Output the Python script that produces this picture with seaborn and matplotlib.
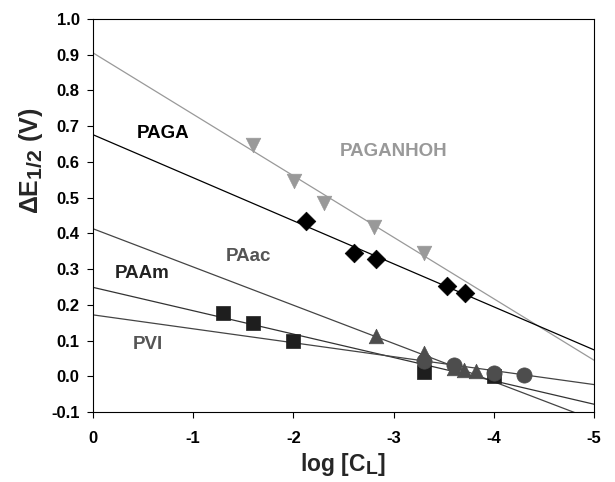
import numpy as np
import pandas as pd
import matplotlib
matplotlib.use("Agg")
import matplotlib.pyplot as plt
import seaborn as sns

try:
    import matplotlib._mathtext as _mt
    _mt.SHRINK_FACTOR = 0.85
except Exception:
    pass

# ---- data ----
paganhoh_x = [-1.60, -2.01, -2.31, -2.80, -3.30]
paganhoh_y = [0.648, 0.547, 0.486, 0.419, 0.345]

paga_x = [-2.13, -2.60, -2.82, -3.53, -3.71]
paga_y = [0.435, 0.345, 0.329, 0.254, 0.234]

paac_x = [-2.82, -3.30, -3.60, -3.70, -3.82]
paac_y = [0.114, 0.064, 0.022, 0.019, 0.015]

paam_x = [-1.30, -1.60, -2.00, -3.30, -4.00]
paam_y = [0.178, 0.150, 0.100, 0.012, 0.000]

pvi_x = [-3.30, -3.60, -4.00, -4.30]
pvi_y = [0.042, 0.031, 0.009, 0.005]

# fitted lines: intercept at log[CL]=0 and slope
line_names = ["PAGANHOH", "PAGA", "PAac", "PAAm", "PVI"]
line_intercepts = [0.905, 0.676, 0.413, 0.249, 0.172]
line_slopes = [0.172, 0.1204, 0.107, 0.0654, 0.039]

x_ticks = [0, -1, -2, -3, -4, -5]
y_ticks = [-0.1, 0.0, 0.1, 0.2, 0.3, 0.4, 0.5, 0.6, 0.7, 0.8, 0.9, 1.0]

sns.set_theme(style="ticks")
plt.rcParams["font.family"] = ["Liberation Sans", "DejaVu Sans"]
plt.rcParams["font.weight"] = "bold"
plt.rcParams["mathtext.fontset"] = "custom"
plt.rcParams["mathtext.rm"] = "Liberation Sans:bold"
plt.rcParams["mathtext.it"] = "Liberation Sans:bold"
plt.rcParams["mathtext.bf"] = "Liberation Sans:bold"

fig = plt.figure(figsize=(6.15, 4.82), dpi=100)
ax = fig.add_axes([0.151, 0.145, 0.815, 0.816])

line_colors = {"PAGANHOH": "#999999", "PAGA": "#000000", "PAac": "#444444",
               "PAAm": "#333333", "PVI": "#444444"}
xs = np.array([0.0, -5.0])
for name, b, m in zip(line_names, line_intercepts, line_slopes):
    df = pd.DataFrame({"x": xs, "y": b + m * xs})
    sns.lineplot(data=df, x="x", y="y", ax=ax, color=line_colors[name],
                 linewidth=0.9, zorder=2)

def pts(x, y, marker, color, size):
    df = pd.DataFrame({"x": x, "y": y})
    sns.scatterplot(data=df, x="x", y="y", ax=ax, marker=marker, color=color,
                    s=size, edgecolor=color, linewidth=0.5, zorder=3)

pts(paganhoh_x, paganhoh_y, "v", "#999999", 110)
pts(paga_x, paga_y, "D", "#000000", 90)
pts(paam_x, paam_y, "s", "#1e1e1e", 100)
pts(paac_x, paac_y, "^", "#4d4d4d", 110)
pts(pvi_x, pvi_y, "o", "#4d4d4d", 120)

ax.set_xlim(0, -5)
ax.set_ylim(-0.1, 1.0)
ax.set_xticks(x_ticks)
ax.set_xticklabels([str(t) for t in x_ticks])
ax.set_yticks(y_ticks)
ax.set_yticklabels([f"{t:.1f}" for t in y_ticks])
ax.tick_params(axis="both", direction="out", length=4.5, width=0.8,
               labelsize=12, colors="black")
ax.tick_params(axis="x", pad=9)
ax.tick_params(axis="y", pad=5)
for lab in ax.get_xticklabels() + ax.get_yticklabels():
    lab.set_fontweight("bold")
for sp in ax.spines.values():
    sp.set_linewidth(0.8)
    sp.set_color("black")

ax.set_xlabel(r"log [C$_\mathregular{L}$]", fontsize=16.5, fontweight="bold", labelpad=4)
ax.set_ylabel(r"$\Delta$E$_\mathregular{1/2}$ (V)", fontsize=18, fontweight="bold")
ax.yaxis.set_label_coords(-0.095, 0.64)

fs = 13.5
ax.text(-0.70, 0.680, "PAGA", color="#000000", fontsize=fs, fontweight="bold", ha="center", va="center")
ax.text(-3.0, 0.628, "PAGANHOH", color="#999999", fontsize=fs, fontweight="bold", ha="center", va="center")
ax.text(-1.55, 0.334, "PAac", color="#555555", fontsize=fs, fontweight="bold", ha="center", va="center")
ax.text(-0.49, 0.287, "PAAm", color="#222222", fontsize=fs, fontweight="bold", ha="center", va="center")
ax.text(-0.55, 0.088, "PVI", color="#555555", fontsize=fs, fontweight="bold", ha="center", va="center")

fig.savefig("out.png", dpi=100)
